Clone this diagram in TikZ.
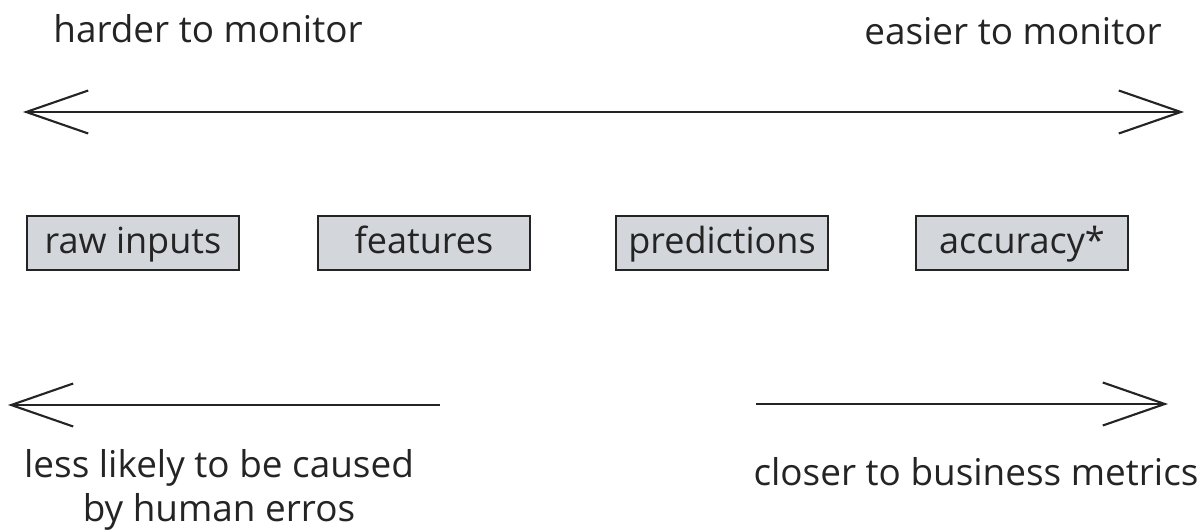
\documentclass[tikz,border=0pt]{standalone}
\usepackage{fontspec}
\setmainfont{Open Sans}
\usetikzlibrary{arrows.meta,positioning}
\definecolor{boxfill}{RGB}{211,215,220}
\definecolor{ink}{RGB}{36,36,36}

\begin{document}
\begin{tikzpicture}[x=0.02cm,y=-0.02cm,
    >={Straight Barb[length=1.24cm,width=0.86cm,line width=1.2pt]},
    stage/.style={rectangle,draw=ink,fill=boxfill,line width=1.1pt,text=ink,
      minimum width=4.24cm,minimum height=1.08cm,text height=2.2ex,text depth=0pt,
      font=\fontsize{20.5}{24}\selectfont},
    note/.style={text=ink,font=\fontsize{21}{25}\selectfont,align=center,inner sep=0pt},
    axis/.style={draw=ink,line width=1.2pt}]
  \useasboundingbox (0,0) rectangle (1204,531);
  % scale from hard to easy
  \coordinate (hardend) at (23,112);
  \coordinate (easyend) at (1184,112);
  \draw[axis,<->] (hardend) -- (easyend);
  \node[note] (hard) at (208,29) {harder to monitor};
  \node[note] (easy) at (1013,31) {easier to monitor};
  % pipeline stages
  \node[stage] (raw) at (133,243) {raw inputs};
  \node[stage] (feat) at (424,243) {features};
  \node[stage] (pred) at (722,243) {predictions};
  \node[stage] (acc) at (1022,243) {accuracy*};
  % bottom arrows
  \coordinate (leftfrom) at (440,405);
  \coordinate (leftto) at (8,405);
  \coordinate (rightfrom) at (756,404);
  \coordinate (rightto) at (1168,404);
  \draw[axis,->] (leftfrom) -- (leftto);
  \draw[axis,->] (rightfrom) -- (rightto);
  \node[note] (human) at (219,490) {less likely to be caused\\by human erros};
  \node[note] (business) at (976,472) {closer to business metrics};
\end{tikzpicture}
\end{document}
